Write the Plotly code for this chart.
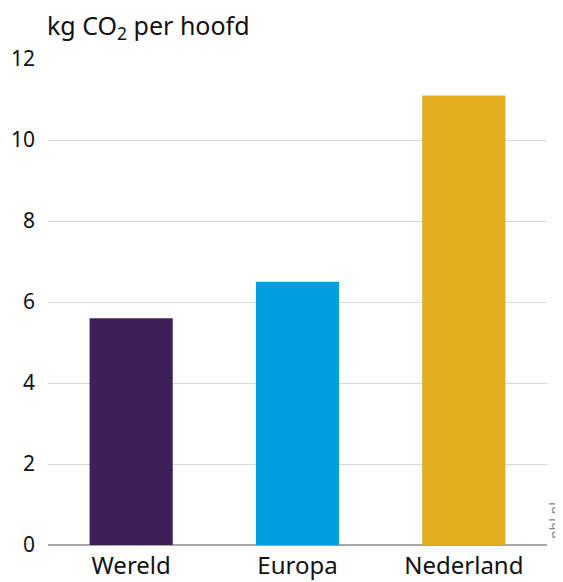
import plotly.graph_objects as go

categories = ["Wereld", "Europa", "Nederland"]
values = [5.6, 6.5, 11.1]
colors = ["#3d1f5a", "#009fe0", "#e4ad1f"]
tick_vals = [0, 2, 4, 6, 8, 10, 12]

fig = go.Figure(go.Bar(x=categories, y=values, marker=dict(color=colors, line=dict(width=0)), width=0.5))

# page body has an 8px default margin, compensate in the figure margins
fig.update_layout(
    width=563, height=582,
    margin=dict(l=40, r=24, t=51, b=45),
    plot_bgcolor="white", paper_bgcolor="white",
    font=dict(family="Noto Sans, Open Sans, sans-serif", color="#111", size=21),
    showlegend=False,
    bargap=0.5,
)
fig.update_xaxes(showgrid=False, showline=False, ticks="", tickfont=dict(size=24), ticklabelstandoff=4,
                 automargin=False)
fig.update_yaxes(range=[0, 12], tickvals=tick_vals, showgrid=True, gridcolor="#d9d9d9", gridwidth=1,
                 zeroline=True, zerolinecolor="#a6a6a6", zerolinewidth=2, ticks="", ticklabelstandoff=12,
                 tickfont=dict(size=21), automargin=False)
fig.add_annotation(text="kg CO<sub>2</sub> per hoofd", xref="paper", yref="paper", x=0, y=1,
                   xanchor="left", yanchor="bottom", yshift=12, xshift=-3, showarrow=False,
                   font=dict(size=25))
fig.add_annotation(text="pbl.nl", xref="paper", yref="paper", x=1, y=0, xanchor="left", yanchor="bottom",
                   xshift=-4, yshift=4, textangle=-90, showarrow=False, font=dict(size=14, color="#888"))
fig.write_html("out.html")
